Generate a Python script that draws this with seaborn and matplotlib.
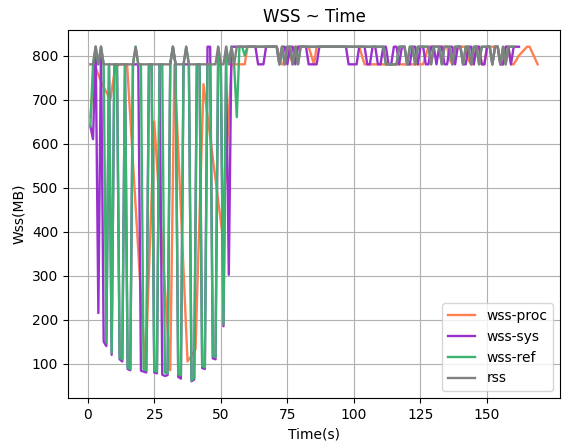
import matplotlib
matplotlib.use("Agg")
import matplotlib.pyplot as plt
import seaborn as sns
import pandas as pd

# ---------------- data ----------------
proc_t = [1, 2.5, 5.4, 8.5, 10.4, 12.3, 14.8, 21.7, 25.0, 31.0, 32.6, 37.5, 39.3, 40.5,
          43.5, 50.6, 54, 56, 57, 58, 59, 60, 61, 62, 63, 64, 65, 66, 67, 68, 69, 70,
          71, 72, 73, 74, 75, 76, 77, 78, 79, 80, 81, 82, 83, 84, 85, 86, 87, 88, 89, 90,
          91, 92, 93, 94, 95, 96, 97, 98, 99, 100, 101, 102, 103, 104, 105, 106, 107, 108,
          109, 110, 111, 112, 113, 114, 115, 116, 117, 118, 119, 120, 121, 122, 123, 124,
          125, 126, 127, 128, 129, 130, 131, 132, 133, 134, 135, 136, 137, 138, 139, 140,
          141, 142, 143, 144, 145, 146, 147, 148, 149, 150, 151, 152, 153, 154, 155, 156,
          157, 158, 159, 160, 162, 165, 166, 169]
proc_v = [660, 780, 735, 700, 776, 780, 780, 84, 650, 85, 780, 105, 121, 133,
          735, 394, 780, 780, 780, 780, 780, 820, 820, 820, 820, 820, 820, 820, 820, 820, 820, 820,
          820, 800, 780, 780, 820, 800, 780, 820, 820, 820, 820, 820, 820, 800, 780, 820, 820, 820, 820, 820,
          820, 820, 820, 820, 820, 820, 820, 820, 820, 820, 820, 820, 800, 780, 780, 780, 780, 780,
          780, 780, 780, 780, 780, 780, 780, 780, 780, 780, 780, 780, 780, 780, 780, 780,
          780, 780, 800, 820, 820, 820, 820, 820, 820, 820, 820, 790, 780, 800, 820, 820,
          820, 820, 790, 780, 780, 820, 820, 780, 780, 820, 820, 820, 820, 820, 780, 780,
          820, 820, 780, 780, 800, 820, 820, 780]

sys_v = [640, 610, 820, 215, 820, 150, 140, 780, 120, 780,
         780, 110, 105, 780, 88, 85, 780, 780, 780, 84,
         82, 80, 780, 780, 80, 78, 780, 75, 72, 74,
         780, 820, 780, 70, 66, 780, 780, 780, 60, 64,
         780, 780, 90, 88, 820, 820, 112, 110, 780, 780,
         185, 780, 302, 820, 820, 820, 820, 820, 820, 820,
         820, 820, 820, 780, 780, 780, 820, 820, 820, 820,
         820, 780, 820, 820, 780, 820, 820, 780, 820, 820,
         820, 820, 780, 780, 780, 780, 820, 820, 820, 820,
         820, 820, 820, 820, 820, 820, 820, 780, 780, 780,
         780, 820, 820, 820, 780, 780, 820, 820, 780, 780,
         820, 820, 780, 780, 820, 820, 780, 820, 820, 780,
         780, 820, 820, 780, 820, 820, 780, 780, 820, 820,
         780, 820, 820, 780, 780, 820, 820, 780, 820, 820,
         780, 780, 820, 820, 780, 820, 820, 780, 780, 820,
         820, 780, 820, 820, 780, 780, 820, 820, 780, 820,
         820, 820]

ref_v = [640, 780, 820, 780, 820, 780, 148, 780, 125, 780,
         780, 114, 110, 780, 91, 88, 780, 820, 780, 780,
         87, 85, 780, 780, 84, 82, 780, 780, 80, 78,
         780, 820, 780, 76, 74, 780, 820, 780, 62, 68,
         780, 780, 95, 92, 780, 780, 118, 115, 820, 780,
         190, 820, 780, 820, 780, 660, 820, 820, 800, 820,
         820, 820, 820, 820, 820, 820, 820, 820, 820, 820,
         820, 780, 820, 780, 820, 820, 780, 820, 780, 820,
         820, 820, 820, 820, 820, 820, 820, 820, 820, 820,
         820, 820, 820, 820, 820, 820, 820, 820, 820, 820,
         820, 820, 820, 820, 820, 820, 820, 820, 820, 820,
         820, 780, 780, 780, 780, 780, 820, 820, 820, 780,
         820, 820, 780, 820, 820, 820, 820, 820, 780, 820,
         820, 820, 780, 820, 820, 820, 780, 820, 820, 820,
         780, 820, 820, 780, 820, 820, 780, 820, 820, 820,
         820, 780, 820, 820, 780, 820, 780, 820, 820, 820]

rss_v = [780, 780, 820, 780, 820, 780, 780, 780, 780, 780,
         780, 780, 780, 780, 780, 780, 780, 820, 780, 780,
         780, 780, 780, 780, 780, 780, 780, 780, 780, 780,
         780, 820, 780, 780, 780, 780, 820, 780, 780, 780,
         780, 780, 780, 780, 780, 780, 780, 780, 820, 780,
         780, 820, 780, 820, 780, 820, 820, 820, 820, 820,
         820, 820, 820, 820, 820, 820, 820, 820, 820, 820,
         820, 780, 820, 780, 820, 820, 780, 820, 780, 820,
         820, 820, 820, 820, 820, 820, 820, 820, 820, 820,
         820, 820, 820, 820, 820, 820, 820, 820, 820, 820,
         820, 820, 820, 820, 820, 820, 820, 820, 820, 820,
         820, 780, 780, 780, 780, 780, 820, 820, 820, 780,
         820, 820, 780, 820, 820, 820, 820, 820, 780, 820,
         820, 820, 780, 820, 820, 820, 780, 820, 820, 820,
         780, 820, 820, 780, 820, 820, 780, 820, 820, 820,
         820, 780, 820, 820, 780, 820, 780, 820, 820, 820]

sys_t = list(range(1, len(sys_v) + 1))
ref_t = list(range(1, len(ref_v) + 1))
rss_t = list(range(1, len(rss_v) + 1))

series = [
    ("wss-proc", proc_t, proc_v, "coral"),
    ("wss-sys", sys_t, sys_v, "darkorchid"),
    ("wss-ref", ref_t, ref_v, "mediumseagreen"),
    ("rss", rss_t, rss_v, "gray"),
]

# ---------------- plot ----------------
fig = plt.figure(figsize=(5.79, 4.48), dpi=100)
ax = fig.add_axes([68 / 579, 1 - 398 / 448, (560 - 68) / 579, (398 - 30) / 448])

for name, t, v, c in series:
    df = pd.DataFrame({"t": t, "v": v})
    sns.lineplot(data=df, x="t", y="v", ax=ax, color=c, label=name,
                 linewidth=1.7, sort=False, estimator=None)

ax.grid(True, color="#b0b0b0", linewidth=0.8)
ax.set_title("WSS ~ Time", fontsize=12)
ax.set_xlabel("Time(s)", fontsize=10)
ax.set_ylabel("Wss(MB)", fontsize=10)
ax.set_xticks([0, 25, 50, 75, 100, 125, 150])
ax.set_yticks([100, 200, 300, 400, 500, 600, 700, 800])
ax.tick_params(labelsize=10)
for s in ax.spines.values():
    s.set_color("black")
    s.set_linewidth(0.8)
ax.legend(loc="lower right", fontsize=10)

fig.savefig("out.png", dpi=100)
